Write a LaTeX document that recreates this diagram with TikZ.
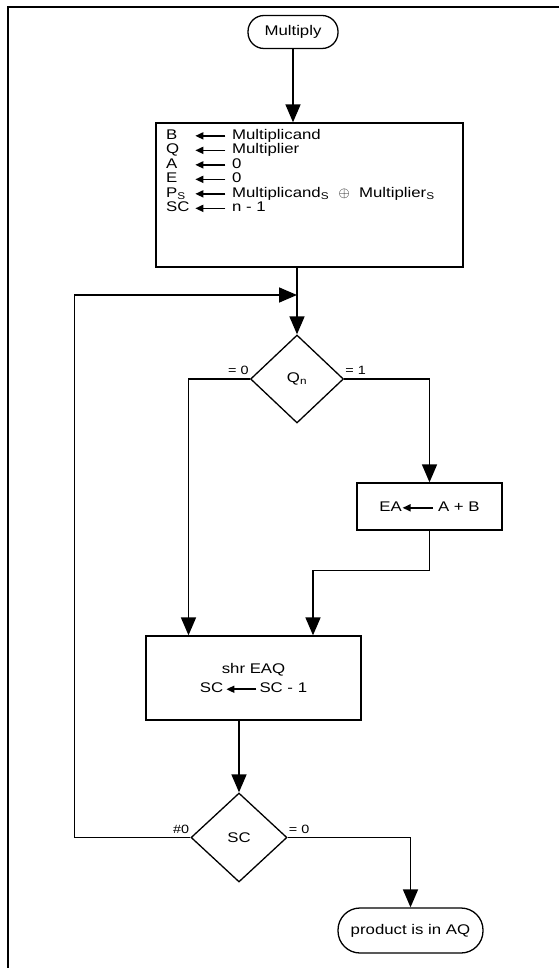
\documentclass[tikz,border=0pt]{standalone}
\usepackage{fontspec}
\setmainfont{Liberation Sans}[FakeStretch=1.2]
\usetikzlibrary{arrows.meta, positioning, shapes.geometric}
% short assignment arrow used inside the boxes
\newcommand{\getsarrow}{\tikz[baseline=-3.5pt, x=1pt, y=1pt]\draw[line width=1.6pt, -{Triangle[length=8pt, width=7pt]}] (30,0) -- (0,0);}

\begin{document}
\begin{tikzpicture}[x=1pt, y=-1pt, font=\fontsize{14}{14.5}\selectfont,
  flow/.style={line width=1.6pt, -{Triangle[length=18pt, width=15pt]}},
  opbox/.style={draw, line width=1.3pt, inner sep=0pt},
  terminal/.style={draw, line width=1.3pt, rounded corners=16pt, inner sep=0pt},
  decision/.style={draw, diamond, line width=1.3pt, inner sep=0pt},
  branch/.style={font=\fontsize{12}{12}\selectfont, inner sep=1pt}]
\useasboundingbox (0,0) rectangle (559,968);
\draw[line width=1.8pt] (559,7) -- (8,7) -- (8,968);

% nodes
\node[terminal, minimum width=90pt, minimum height=33pt] (multiply) at (293,32) {Multiply};
\node[opbox, minimum width=307pt, minimum height=144pt] (init) at (309.5,195) {};
\node[anchor=north west, inner sep=0pt] (initregs) at (166,129) {%
  \begin{tabular}{@{}l@{\hspace{5pt}}l@{\hspace{6pt}}l@{}}
  B & \getsarrow & Multiplicand\\
  Q & \getsarrow & Multiplier\\
  A & \getsarrow & 0\\
  E & \getsarrow & 0\\
  P\textsubscript{S} & \getsarrow & Multiplicand\textsubscript{S}\ \ $\oplus$\ \ Multiplier\textsubscript{S}\\
  SC & \getsarrow & n - 1
  \end{tabular}};
\coordinate (loopin) at (297,295);
\node[decision, minimum width=93pt, minimum height=88pt] (qn) at (297,379) {Q\textsubscript{n}};
\node[opbox, minimum width=145pt, minimum height=47pt] (addab) at (429.5,506.5) {EA\getsarrow\ A + B};
\node[opbox, minimum width=215pt, minimum height=84pt, align=center] (shr) at (253.5,678) {shr EAQ\\[5pt]SC\,\getsarrow\,SC - 1};
\node[decision, minimum width=96pt, minimum height=89pt] (sc) at (239,837.5) {SC};
\node[terminal, rounded corners=22pt, minimum width=145pt, minimum height=45pt] (product) at (410.5,930.5) {product is in AQ};

% branch labels
\node[branch, anchor=south east] (qzero) at ([yshift=3pt]qn.west) {= 0};
\node[branch, anchor=south west] (qone) at ([yshift=3pt]qn.east) {= 1};
\node[branch, anchor=south east] (scnz) at ([yshift=3pt]sc.west) {\#0};
\node[branch, anchor=south west] (scz) at ([yshift=3pt]sc.east) {= 0};

% connectors
\draw[flow] (multiply.south) -- (multiply.south |- init.north);
\draw[flow] (init.south -| qn) -- (qn.north);
\draw[flow] (qn.west) -| ([xshift=-65pt]shr.north);
\draw[flow] (qn.east) -| (addab.north);
\draw[flow] (addab.south) -- ++(0,40) -| ([xshift=59.5pt]shr.north);
\draw[flow] (sc.north |- shr.south) -- (sc.north);
\draw[flow] (sc.east) -| (product.north);
\draw[flow] (sc.west) -- ++(-116,0) |- (loopin);
\end{tikzpicture}
\end{document}
